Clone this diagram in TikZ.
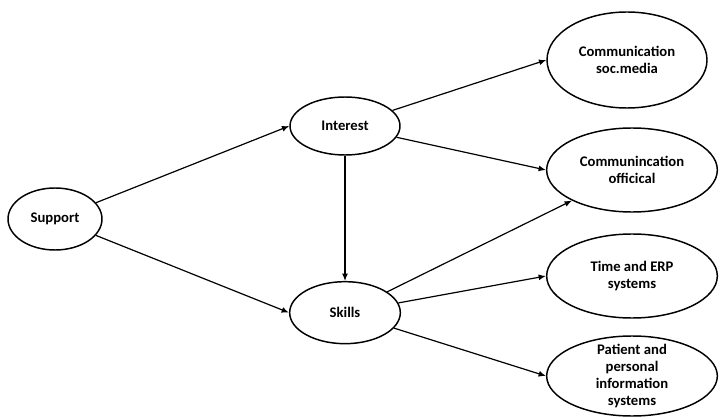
\documentclass[tikz,border=0pt]{standalone}
\usepackage{fontspec}
\setmainfont{Carlito}
\usepackage{tikz}
\usetikzlibrary{shapes.geometric, positioning, arrows.meta}
\tikzset{
node distance=1in,
Factor/.style={
 	draw, ellipse,
	line width=1.1pt,
	align=center,
	inner sep=0pt,
	font=\fontsize{11}{12.75}\selectfont\bfseries
},
Outcome/.style={
 	Factor,
	minimum width=128pt,
	minimum height=63pt
},
Edge/.style={
	draw=black,
	line width=0.9pt,
	-{Latex[length=5.5pt, width=4.5pt]}
}
}

\begin{document}
\begin{tikzpicture}[x=0.75pt, y=-0.75pt]
	\useasboundingbox (0,0) rectangle (720,420);

	\node[Factor, minimum width=70.5pt, minimum height=46.5pt] (Support) at (55,219) {Support};
	\node[Factor, minimum width=82.5pt, minimum height=43.5pt] (Interest) at (345,126) {Interest};
	\node[Factor, below of=Interest, node distance=140pt, minimum width=83pt, minimum height=46.5pt] (Skills) {Skills};

	\node[Outcome, minimum width=120pt, minimum height=72pt] (SocMedia) at (627,60) {Communication\\soc.media};
	\node[Outcome, below of=SocMedia, node distance=82.5pt, xshift=3.75pt] (Official) {Communincation\\officical};
	\node[Outcome, below of=Official, node distance=79.5pt] (TimeERP) {Time and ERP\\systems};
	\node[Outcome, below of=TimeERP, node distance=75pt, minimum height=60pt, inner ysep=-4pt] (Patient) {Patient and\\personal\\information\\systems};

	\draw[Edge] (Support) -- (Interest.west);
	\draw[Edge] (Support) -- (Skills.west);
	\draw[Edge] (Interest) -- (Skills);
	\draw[Edge] (Interest) -- (SocMedia.west);
	\draw[Edge] (Interest) -- (Official.west);
	\draw[Edge] (Skills) -- (Official.207);
	\draw[Edge] (Skills) -- (TimeERP.west);
	\draw[Edge] (Skills) -- (Patient.west);
\end{tikzpicture}
\end{document}
